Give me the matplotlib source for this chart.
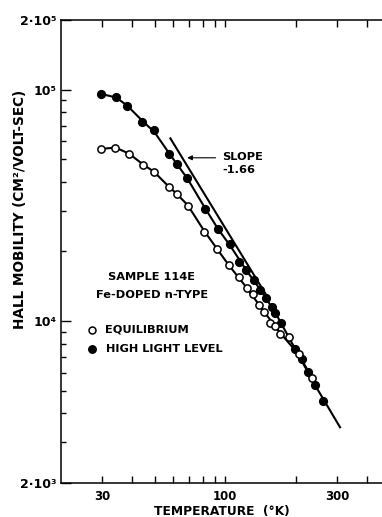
import matplotlib
import numpy as np
from matplotlib import pyplot as plt
from matplotlib.ticker import FixedLocator, FixedFormatter, NullFormatter

matplotlib.use('Agg')

# Hall mobility vs temperature, sample 114E (Fe-doped n-type)
temp_light = [29.5, 34.3, 38.2, 44.3, 49.9, 57.4, 62.3, 68.8, 82.3, 93.2, 104.3, 113.9,
              122.8, 131.9, 140.8, 149.3, 157.9, 163.1, 172.9, 198.3, 211.7, 224.5, 241.1, 261.5]
mob_light = [96100, 92900, 84800, 72600, 66700, 52600, 47600, 41700, 30500, 24900, 21500, 18000,
             16700, 15000, 13700, 12600, 11500, 10800, 9780, 7580, 6840, 6020, 5310, 4500]

temp_eq = [29.5, 34.1, 38.9, 44.7, 49.6, 57.4, 62.3, 69.2, 81.4, 92.0, 103.3,
           113.9, 123.6, 131.1, 139.5, 146.4, 155.3, 163.1, 171.2, 185.7, 204.8, 234.8]
mob_eq = [55200, 56100, 52600, 47100, 44100, 37800, 35400, 31500, 24400, 20600, 17400,
          15500, 13960, 13150, 11800, 10960, 9830, 9520, 8770, 8510, 7190, 5670]

# hand-drawn curves through each set
curve_light_t = [29.5, 34.3, 38.2, 44.3, 50.0, 57.4, 62.3, 68.8, 82.3, 93.2, 104.5,
                 122.8, 140.8, 163.1, 198.3, 241.1, 307.7]
curve_light_mu = [96000, 92500, 85500, 73500, 65500, 53500, 47600, 41500, 30600, 25000, 21300,
                  16600, 13700, 10900, 7580, 5280, 3480]

curve_eq_t = [29.5, 34.1, 38.9, 44.7, 49.6, 57.4, 62.3, 69.2, 81.4, 92.0, 103.3,
              123.6, 146.4, 171.2, 204.8, 234.8]
curve_eq_mu = [55500, 56200, 53000, 47500, 44300, 38200, 35400, 31700, 24500, 20600, 17500,
               13900, 10960, 8900, 7200, 5650]

# straight line of slope -1.66 on log-log axes
slope = -1.66
slope_t = [58.4, 150.0]
slope_mu0 = 61600

x_major = [30, 100, 300]
x_minor = [40, 50, 60, 70, 80, 90, 200, 400]
y_major = [2e3, 1e4, 1e5, 2e5]
y_major_labels = ['2·10³', '10⁴', '10⁵', '2·10⁵']
y_minor = [3e3, 4e3, 5e3, 6e3, 7e3, 8e3, 9e3, 2e4, 3e4, 4e4, 5e4, 6e4, 7e4, 8e4, 9e4]

plt.rcParams['font.family'] = ['DejaVu Sans']
plt.rcParams['font.weight'] = 'bold'
plt.rcParams['axes.labelweight'] = 'bold'

fig = plt.figure(figsize=(3.82, 5.17), dpi=100)
ax = fig.add_axes([0.1597, 0.0658, 0.8403, 0.8955])

ax.set_xscale('log')
ax.set_yscale('log')
ax.set_xlim(20, 464)
ax.set_ylim(2e3, 2e5)

# fitted curves and the slope line
ax.plot(curve_light_t, curve_light_mu, color='black', lw=1.5, zorder=2)
ax.plot(curve_eq_t, curve_eq_mu, color='black', lw=1.5, zorder=2)
t_line = np.array(slope_t)
ax.plot(t_line, slope_mu0 * (t_line / slope_t[0]) ** slope, color='black', lw=1.5, zorder=2)

# data points
ax.plot(temp_light, mob_light, 'o', color='black', ms=5.6, zorder=3)
ax.plot(temp_eq, mob_eq, 'o', mfc='white', mec='black', mew=1.1, ms=5.2, zorder=4)

# slope annotation
ax.annotate('', xy=(67.0, 50800), xytext=(93.4, 50800),
            arrowprops=dict(arrowstyle='-|>', color='black', lw=0.8, mutation_scale=7))
ax.text(0.502, 0.705, 'SLOPE', transform=ax.transAxes, fontsize=8.2, va='center', ha='left')
ax.text(0.502, 0.676, '-1.66', transform=ax.transAxes, fontsize=8.2, va='center', ha='left')

# sample info and key
ax.text(0.281, 0.4456, 'SAMPLE 114E', transform=ax.transAxes, fontsize=8.2, ha='center', va='center')
ax.text(0.2825, 0.406, 'Fe-DOPED n-TYPE', transform=ax.transAxes, fontsize=8.2, ha='center', va='center')
ax.plot([0.0975], [0.3305], 'o', transform=ax.transAxes, mfc='white', mec='black', mew=1.1, ms=5.0)
ax.text(0.137, 0.3305, 'EQUILIBRIUM', transform=ax.transAxes, fontsize=8.2, va='center', ha='left')
ax.plot([0.0975], [0.2888], 'o', transform=ax.transAxes, color='black', ms=5.4)
ax.text(0.139, 0.2888, 'HIGH LIGHT LEVEL', transform=ax.transAxes, fontsize=8.2, va='center', ha='left')

# axes styling
ax.spines['right'].set_visible(False)
for s in ['left', 'top', 'bottom']:
    ax.spines[s].set_linewidth(1.1)

ax.xaxis.set_major_locator(FixedLocator(x_major))
ax.xaxis.set_major_formatter(FixedFormatter([str(v) for v in x_major]))
ax.xaxis.set_minor_locator(FixedLocator(x_minor))
ax.xaxis.set_minor_formatter(NullFormatter())
ax.yaxis.set_major_locator(FixedLocator(y_major))
ax.yaxis.set_major_formatter(FixedFormatter(y_major_labels))
ax.yaxis.set_minor_locator(FixedLocator(y_minor))
ax.yaxis.set_minor_formatter(NullFormatter())

ax.tick_params(axis='x', which='both', direction='in', top=True, length=5, width=1.0,
               labelsize=8.5, pad=5)
ax.tick_params(axis='y', which='major', direction='in', length=7, width=1.0, labelsize=9, pad=3)
ax.tick_params(axis='y', which='minor', direction='in', length=3.5, width=1.0)

ax.set_xlabel('TEMPERATURE  (°K)', fontsize=8.8)
ax.xaxis.set_label_coords(0.5, -0.048)
ax.set_ylabel('HALL MOBILITY (CM²/VOLT-SEC)', fontsize=9.8)
ax.yaxis.set_label_coords(-0.128, 0.59)
ax.yaxis.label.set_va('center')

fig.savefig('out.png', dpi=100)
